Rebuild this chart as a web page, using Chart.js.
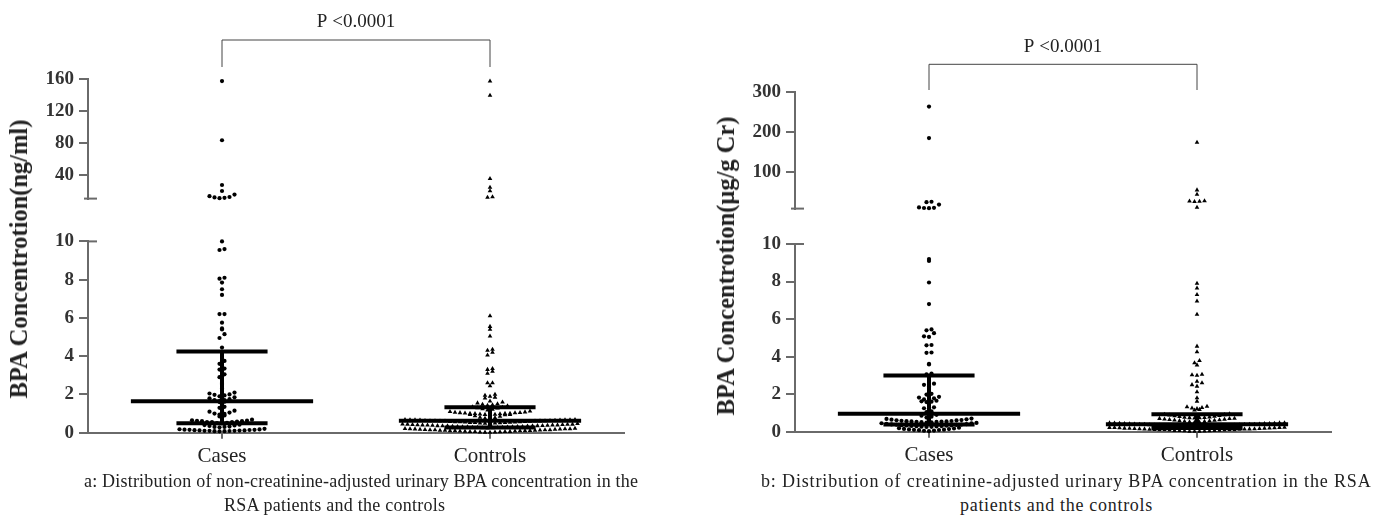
<!DOCTYPE html>
<html>
<head>
<meta charset="utf-8">
<script src="https://cdn.jsdelivr.net/npm/chart.js@4.4.1/dist/chart.umd.min.js"></script>
<style>
  body { margin: 0; background: #fff; width: 1385px; height: 519px; overflow: hidden; position: relative;
         font-family: "Liberation Serif", "Times New Roman", serif; color: #222; }
  canvas { position: absolute; }
  .ytitle { position: absolute; font-weight: bold; font-size: 24.5px; white-space: nowrap;
            transform: translate(-50%, -50%) rotate(-90deg); }
  .cap { position: absolute; font-size: 18px; line-height: 20px; white-space: nowrap; }
</style>
</head>
<body>
<canvas id="aTop" width="650" height="215" style="left:0;top:0"></canvas>
<canvas id="aBottom" width="650" height="250" style="left:0;top:225px"></canvas>
<canvas id="bTop" width="650" height="225" style="left:700px;top:0"></canvas>
<canvas id="bBottom" width="650" height="250" style="left:700px;top:225px"></canvas>

<div class="ytitle" style="left:19px;top:259px">BPA Concentrotion(ng/ml)</div>
<div class="ytitle" style="left:726px;top:266px">BPA Concentrotion(μg/g Cr)</div>

<div class="cap" style="left:84px;top:471px;letter-spacing:0.2px">a: Distribution of non-creatinine-adjusted urinary BPA concentration in the</div>
<div class="cap" style="left:224px;top:495px;letter-spacing:0.25px">RSA patients and the controls</div>
<div class="cap" style="left:761px;top:471px;letter-spacing:0.85px">b: Distribution of creatinine-adjusted urinary BPA concentration in the RSA</div>
<div class="cap" style="left:960px;top:495px;letter-spacing:0.7px">patients and the controls</div>

<script>
const categories = ["Cases", "Controls"];

// a: non-creatinine-adjusted (ng/ml)
const casesA = [
  157, 83, 27, 19.5, 15, 13, 12, 11.5, 11, 10.5,
  10.0, 9.6, 9.55, 8.1, 8.05, 7.85, 7.5, 7.2, 6.2, 6.2, 5.75, 5.45, 5.4, 5.15, 4.95, 4.45,
  3.75, 3.6, 3.35, 3.3, 3.05, 2.9, 2.6, 2.55, 2.3, 2.1, 2.05, 2.0, 1.98, 1.95, 1.9, 1.85, 1.8, 1.75, 1.7, 1.7, 1.65, 1.62, 1.6,
  1.35, 1.3, 1.15, 1.1, 1.05, 1.0, 0.98, 0.95, 0.9, 0.85,
  0.68, 0.65, 0.63, 0.62, 0.6, 0.6, 0.58, 0.56, 0.55, 0.55, 0.52, 0.5, 0.48,
  0.42, 0.4, 0.38, 0.35, 0.32, 0.3, 0.3, 0.28,
  0.2, 0.18, 0.17, 0.16, 0.15, 0.15, 0.14, 0.13, 0.12, 0.12, 0.11, 0.1, 0.1, 0.1, 0.09, 0.08, 0.08, 0.07
];
const controlsA = [
  157, 139, 35, 24, 19.5, 12, 11.5,
  6.1, 5.55, 5.4, 5.05, 4.35, 4.3, 4.2, 4.05, 3.35, 3.3, 3.2, 3.1, 2.6, 2.6, 2.45, 2.0, 1.95, 1.9, 1.85, 1.8, 1.65, 1.6,
  1.55, 1.5, 1.48, 1.45, 1.42, 1.4,
  1.35, 1.32, 1.3, 1.28, 1.25, 1.22, 1.18,
  1.12, 1.1, 1.08, 1.06, 1.05, 1.04, 1.03, 1.02, 1.01, 1.0, 1.0, 0.99, 0.98, 0.97, 0.96, 0.95, 0.95, 0.94, 0.94, 0.93,
  0.88, 0.85, 0.8, 0.78, 0.75, 0.72,
  0.47, 0.48, 0.49, 0.5, 0.5, 0.51, 0.52, 0.52, 0.53, 0.54, 0.55, 0.55, 0.56, 0.57, 0.58, 0.58, 0.59, 0.6,
  0.6, 0.6, 0.61, 0.62, 0.62, 0.63, 0.63, 0.64, 0.65, 0.65, 0.66, 0.66, 0.67, 0.67, 0.68, 0.68, 0.62, 0.57,
  0.24, 0.25, 0.25, 0.26, 0.27, 0.28, 0.28, 0.29, 0.3, 0.3, 0.31, 0.32, 0.32, 0.33, 0.34, 0.35, 0.35, 0.36,
  0.36, 0.37, 0.38, 0.38, 0.39, 0.4, 0.4, 0.41, 0.42, 0.42, 0.43, 0.44, 0.44, 0.45, 0.3, 0.35, 0.4,
  0.01, 0.02, 0.03, 0.03, 0.04, 0.05, 0.05, 0.06, 0.07, 0.08, 0.08, 0.09, 0.1, 0.1, 0.11, 0.12, 0.12, 0.13,
  0.14, 0.15, 0.15, 0.16, 0.17, 0.17, 0.18, 0.19, 0.2, 0.2, 0.21, 0.22, 0.1, 0.15, 0.05, 0.2, 0.12
];
const medianA = [1.65, 0.62];
const q1A = [0.5, 0.27];
const q3A = [4.25, 1.33];

// b: creatinine-adjusted (μg/g Cr)
const casesB = [
  263, 185, 27, 26, 20, 13, 12, 11.5, 11,
  9.2, 9.1, 7.95, 6.8, 5.45, 5.4, 5.25, 5.08, 5.05, 4.62, 4.6, 4.22, 4.2, 3.62, 3.58, 3.1, 3.05, 2.56, 2.5, 2.4, 2.02, 1.98,
  1.86, 1.82, 1.78, 1.72, 1.7, 1.65, 1.62, 1.6, 1.58,
  1.3, 1.25, 1.22, 1.08, 1.05, 0.9, 0.85, 0.8, 0.75,
  0.49, 0.5, 0.51, 0.52, 0.53, 0.54, 0.55, 0.55, 0.56, 0.57, 0.58, 0.6, 0.61, 0.62, 0.64, 0.66, 0.68, 0.7,
  0.25, 0.26, 0.27, 0.28, 0.29, 0.3, 0.31, 0.32, 0.33, 0.34, 0.35, 0.36, 0.37, 0.38, 0.39, 0.4, 0.42, 0.44, 0.45, 0.47,
  0.03, 0.05, 0.06, 0.08, 0.09, 0.1, 0.11, 0.12, 0.14, 0.15, 0.17, 0.19, 0.21
];
const controlsB = [
  174, 56, 45, 29, 28.5, 28, 27, 13,
  7.9, 7.65, 7.3, 6.95, 6.25, 4.55, 4.25, 3.78, 3.66, 3.55, 3.05, 3.02, 3.0, 2.68, 2.6, 2.5, 2.42, 2.12, 1.8, 1.62,
  1.35, 1.32, 1.28, 1.25, 1.22, 1.18, 1.15,
  0.72, 0.73, 0.74, 0.75, 0.76, 0.78, 0.8, 0.82, 0.84, 0.86, 0.88, 0.9, 0.92, 0.95,
  0.49, 0.5, 0.52, 0.54, 0.55, 0.57, 0.58, 0.6, 0.61, 0.63, 0.64, 0.66, 0.67, 0.69, 0.7, 0.71,
  0.25, 0.26, 0.26, 0.27, 0.28, 0.28, 0.29, 0.3, 0.3, 0.31, 0.32, 0.32, 0.33, 0.34, 0.34, 0.35, 0.36, 0.36,
  0.37, 0.38, 0.38, 0.39, 0.4, 0.4, 0.41, 0.42, 0.42, 0.43, 0.44, 0.44, 0.45, 0.46, 0.46, 0.47, 0.33, 0.38,
  0.01, 0.02, 0.02, 0.03, 0.04, 0.04, 0.05, 0.06, 0.06, 0.07, 0.08, 0.08, 0.09, 0.1, 0.1, 0.11, 0.12, 0.12,
  0.13, 0.14, 0.14, 0.15, 0.16, 0.16, 0.17, 0.18, 0.18, 0.19, 0.2, 0.2, 0.21, 0.22, 0.22, 0.23, 0.1, 0.15
];
const medianB = [0.95, 0.4];
const q1B = [0.38, 0.2];
const q3B = [3.0, 0.93];

// axis segments (broken y axis)
const breakAt = 10;
const ticksAUpper = [40, 80, 120, 160];
const ticksBUpper = [100, 200, 300];
const ticksLower = [0, 2, 4, 6, 8, 10];

const AXIS = "#6a6a6a";
const FONT = "Liberation Serif";
const ROW_H = 4.5;   // px height of a swarm row
const COL_W = 5;     // px spacing between dots in a row

const bracketPlugin = {
  id: "bracket",
  afterDraw(chart, args, o) {
    if (!o.text) return;
    const { ctx, chartArea } = chart;
    const x = chart.scales.x;
    const x1 = x.getPixelForValue(1), x2 = x.getPixelForValue(2);
    const yTop = chartArea.top - o.rise, yEnd = chartArea.top - o.gap;
    ctx.save();
    ctx.strokeStyle = "#444";
    ctx.lineWidth = 1;
    ctx.beginPath();
    ctx.moveTo(x1, yEnd); ctx.lineTo(x1, yTop); ctx.lineTo(x2, yTop); ctx.lineTo(x2, yEnd);
    ctx.stroke();
    ctx.font = "19px '" + FONT + "'";
    ctx.fillStyle = "#222";
    ctx.textAlign = "center";
    ctx.textBaseline = "middle";
    ctx.fillText(o.text, (x1 + x2) / 2, yTop - o.textUp);
    ctx.restore();
  }
};

// short caps where the y axis is broken
const breakPlugin = {
  id: "axisBreak",
  afterDraw(chart, args, o) {
    if (!o.at) return;
    const { ctx, chartArea } = chart;
    const y = o.at === "bottom" ? chartArea.bottom : chartArea.top;
    ctx.save();
    ctx.strokeStyle = AXIS;
    ctx.lineWidth = 2;
    ctx.beginPath();
    ctx.moveTo(chartArea.left - o.left, y);
    ctx.lineTo(chartArea.left + 9, y);
    ctx.stroke();
    ctx.restore();
  }
};

function statLines(medians, q1, q3) {
  const sets = [];
  const line = pts => ({
    type: "line", data: pts, borderColor: "#000", borderWidth: 4, pointRadius: 0,
    borderCapStyle: "butt", fill: false, order: 0, clip: false
  });
  medians.forEach((m, i) => {
    const c = i + 1;
    sets.push(line([{ x: c - 0.34, y: m }, { x: c + 0.34, y: m }]));
    sets.push(line([{ x: c - 0.17, y: q3[i] }, { x: c + 0.17, y: q3[i] }]));
    sets.push(line([{ x: c - 0.17, y: q1[i] }, { x: c + 0.17, y: q1[i] }]));
    sets.push(line([{ x: c, y: q1[i] }, { x: c, y: q3[i] }]));
  });
  return sets;
}

function dots(values, center, style, radius) {
  return {
    type: "scatter", data: values.map(v => ({ x: center, y: v })), center: center, swarm: true,
    pointStyle: style, pointRadius: radius, backgroundColor: "#000", borderColor: "#000",
    borderWidth: 0, order: 1, clip: false
  };
}

// beeswarm: group dots into pixel rows and spread each row around its category
function swarm(chart) {
  const xs = chart.scales.x, ys = chart.scales.y;
  chart.data.datasets.forEach(ds => {
    if (!ds.swarm) return;
    const rows = {};
    ds.data.forEach(p => {
      const b = Math.floor((ys.bottom - ys.getPixelForValue(p.y)) / ROW_H);
      (rows[b] = rows[b] || []).push(p);
    });
    const cx = xs.getPixelForValue(ds.center);
    Object.values(rows).forEach(row => {
      row.sort((a, b) => a.y - b.y);
      const offs = row.map((p, i) => (i - (row.length - 1) / 2) * COL_W)
        .sort((a, b) => Math.abs(a) - Math.abs(b));
      row.forEach((p, i) => { p.x = xs.getValueForPixel(cx + offs[i]); });
    });
  });
  chart.update("none");
}

function segment(id, cfg) {
  const inSeg = v => cfg.upper ? v > breakAt : v <= breakAt;
  const datasets = [
    dots(cfg.cases.filter(inSeg), 1, "circle", 2.1),
    dots(cfg.controls.filter(inSeg), 2, "triangle", 2.7)
  ];
  if (!cfg.upper) datasets.push(...statLines(cfg.median, cfg.q1, cfg.q3));

  const chart = new Chart(document.getElementById(id), {
    type: "scatter",
    data: { datasets: datasets },
    options: {
      responsive: false,
      animation: false,
      layout: { padding: cfg.padding },
      plugins: {
        legend: { display: false },
        tooltip: { enabled: false },
        bracket: cfg.bracket || {},
        axisBreak: cfg.upper ? { at: "bottom", left: 4 } : { at: "top", left: 0 }
      },
      scales: {
        x: {
          type: "linear", min: 0.5, max: 2.5,
          display: !cfg.upper,
          afterBuildTicks: s => { s.ticks = [{ value: 1 }, { value: 2 }]; },
          afterFit: s => { s.height = cfg.xHeight || 0; },
          border: { color: AXIS, width: 2 },
          grid: { drawOnChartArea: false, tickLength: 6, color: AXIS, lineWidth: 2 },
          ticks: {
            callback: v => categories[v - 1], autoSkip: false, maxRotation: 0,
            font: { family: FONT, size: 21 }, color: "#222", padding: 5
          }
        },
        y: {
          min: cfg.min, max: cfg.max,
          afterBuildTicks: s => { s.ticks = cfg.ticks.map(v => ({ value: v })); },
          afterFit: s => { s.width = cfg.yWidth; },
          border: { color: AXIS, width: 2 },
          grid: { drawOnChartArea: false, tickLength: 9, color: AXIS, lineWidth: 2 },
          ticks: { font: { family: FONT, size: 19, weight: "bold" }, color: "#333", padding: 5 }
        }
      }
    },
    plugins: [bracketPlugin, breakPlugin]
  });
  swarm(chart);
  return chart;
}

function drawAll() {
  segment("aTop", {
    upper: true, cases: casesA, controls: controlsA, min: breakAt, max: 160, ticks: ticksAUpper,
    yWidth: 88, padding: { top: 78.7, right: 26, bottom: 6.8, left: 0 },
    bracket: { text: "P <0.0001", rise: 38.7, gap: 11.7, textUp: 18 }
  });
  segment("aBottom", {
    upper: false, cases: casesA, controls: controlsA, min: 0, max: breakAt, ticks: ticksLower,
    median: medianA, q1: q1A, q3: q3A,
    yWidth: 88, xHeight: 42.3, padding: { top: 11, right: 26, bottom: 0, left: 0 }
  });
  segment("bTop", {
    upper: true, cases: casesB, controls: controlsB, min: breakAt, max: 300, ticks: ticksBUpper,
    yWidth: 95, padding: { top: 91.7, right: 19, bottom: 6.3, left: 0 },
    bracket: { text: "P <0.0001", rise: 27.4, gap: 1.7, textUp: 17 }
  });
  segment("bBottom", {
    upper: false, cases: casesB, controls: controlsB, min: 0, max: breakAt, ticks: ticksLower,
    median: medianB, q1: q1B, q3: q3B,
    yWidth: 95, xHeight: 43.3, padding: { top: 19, right: 19, bottom: 0, left: 0 }
  });
}

// make sure the serif faces are ready before the canvases draw text
Promise.all([
  document.fonts.load("19px 'Liberation Serif'"),
  document.fonts.load("bold 19px 'Liberation Serif'")
]).then(drawAll, drawAll);
</script>
</body>
</html>
